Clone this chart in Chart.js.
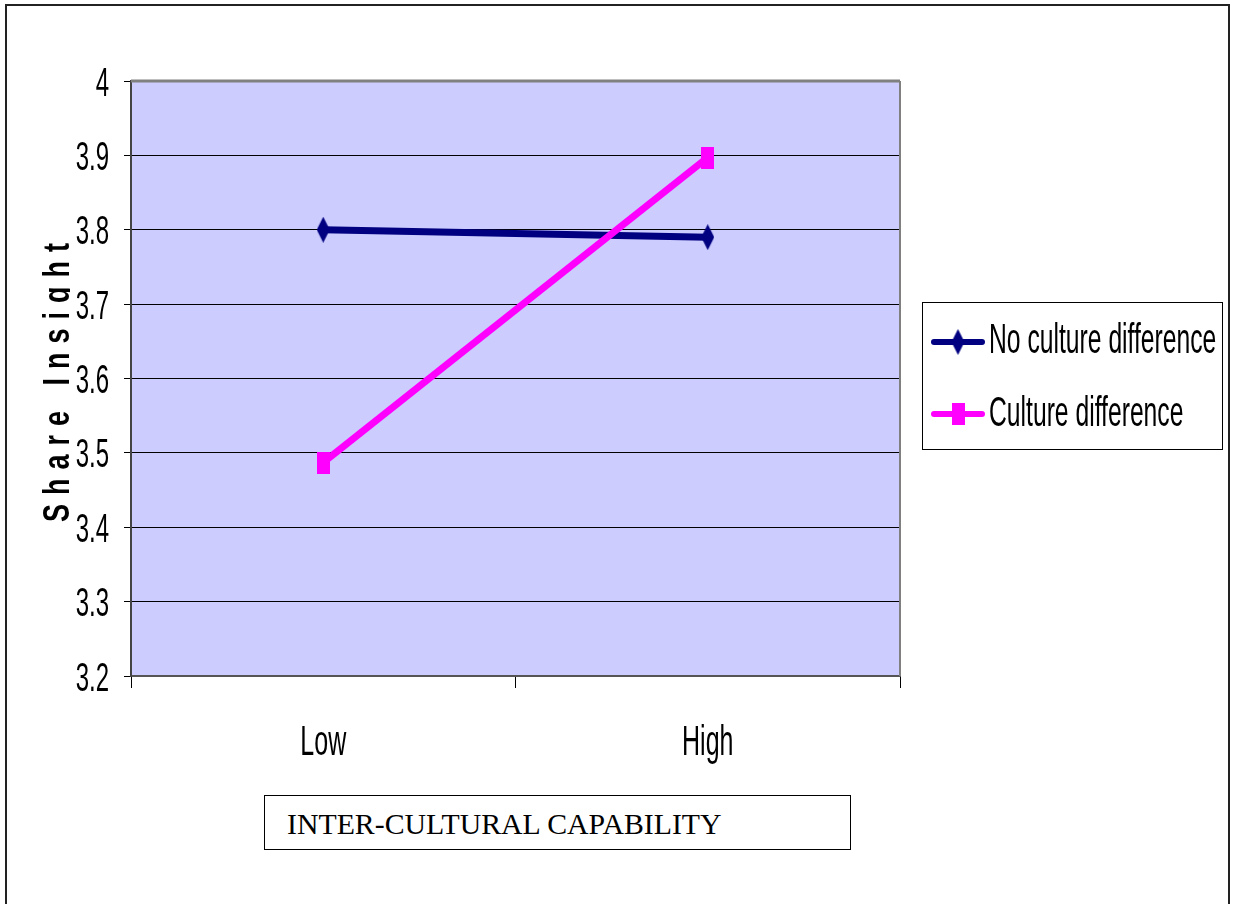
<!DOCTYPE html>
<html>
<head>
<meta charset="utf-8">
<title>Share Insight</title>
<script src="https://cdn.jsdelivr.net/npm/chart.js@4"></script>
<style>
    body { margin: 0; background: #fff; }
    #wrap { position: relative; width: 1233px; height: 904px; overflow: hidden; }
    #xtitle {
        position: absolute; left: 264px; top: 795px;
        width: 563px; height: 53px; padding-left: 22px;
        border: 1px solid #000; background: #fff;
        font-family: "Liberation Serif", "Times New Roman", serif;
        font-size: 29.8px; line-height: 55px; color: #000;
    }
</style>
</head>
<body>
<div id="wrap">
    <canvas id="myChart" width="1233" height="904"></canvas>
    <div id="xtitle">INTER-CULTURAL CAPABILITY</div>
</div>
<script>
// datos
const categories = ['Low', 'High'];
const seriesNames = ['No culture difference', 'Culture difference'];
const noCultureDiff = [3.80, 3.79];
const cultureDiff = [3.487, 3.897];
const yTickValues = [3.2, 3.3, 3.4, 3.5, 3.6, 3.7, 3.8, 3.9, 4.0];
const yTickLabels = ['3.2', '3.3', '3.4', '3.5', '3.6', '3.7', '3.8', '3.9', '4'];
const yTitle = 'Share Insight';

const NAVY = '#000080';
const MAGENTA = '#FF00FF';
const FONT = '"Liberation Sans", Arial, sans-serif';
const SY = 1.7;   // texto estirado en vertical como en Excel

// marcadores estirados (rombo y cuadrado)
function marker(shape, color, w, h) {
    const c = document.createElement('canvas');
    c.width = w; c.height = h;
    const g = c.getContext('2d');
    g.fillStyle = color;
    if (shape === 'diamond') {
        g.beginPath();
        g.moveTo(w / 2, 0); g.lineTo(w, h / 2); g.lineTo(w / 2, h); g.lineTo(0, h / 2);
        g.closePath(); g.fill();
    } else {
        g.fillRect(0, 0, w, h);
    }
    return c;
}
const diamondImg = marker('diamond', NAVY, 13, 26);
const squareImg = marker('square', MAGENTA, 13, 22);

function stretchText(ctx, text, x, yCenter, align, size, sy) {
    ctx.save();
    ctx.font = size + 'px ' + FONT;
    ctx.textAlign = align;
    ctx.textBaseline = 'alphabetic';
    ctx.translate(x, yCenter + 0.358 * size * sy);
    ctx.scale(1, sy);
    ctx.fillText(text, 0, 0);
    ctx.restore();
}

const excelLook = {
    id: 'excelLook',
    beforeDraw(chart) {
        const { ctx, chartArea: a } = chart;
        ctx.save();
        ctx.fillStyle = '#fff';
        ctx.fillRect(0, 0, chart.width, chart.height);
        ctx.fillStyle = '#CCCCFF';
        ctx.fillRect(a.left, a.top, a.right - a.left, a.bottom - a.top);
        ctx.restore();
    },
    afterDraw(chart) {
        const { ctx, chartArea: a } = chart;
        const ys = chart.scales.y, xs = chart.scales.x;
        ctx.save();
        // bordes del area de trazado
        ctx.strokeStyle = '#808080';
        ctx.lineWidth = 3;
        ctx.beginPath(); ctx.moveTo(a.left, a.top); ctx.lineTo(a.right, a.top); ctx.stroke();
        ctx.lineWidth = 2;
        ctx.beginPath(); ctx.moveTo(a.right, a.top); ctx.lineTo(a.right, a.bottom); ctx.stroke();

        // etiquetas del eje y
        ctx.fillStyle = '#000';
        ys.ticks.forEach((t, i) => {
            stretchText(ctx, yTickLabels[i], 109, ys.getPixelForValue(t.value), 'right', 24, SY);
        });
        // etiquetas de categoria
        categories.forEach((c, i) => {
            stretchText(ctx, c, xs.getPixelForTick(i), 740, 'center', 25, 1.68);
        });

        // titulo del eje y (recortado como en el original)
        ctx.save();
        ctx.beginPath(); ctx.rect(0, 0, 70, chart.height); ctx.clip();
        ctx.translate(69, 522);
        ctx.rotate(-Math.PI / 2);
        ctx.scale(1, 1.4);
        ctx.font = 'bold 27px ' + FONT;
        ctx.letterSpacing = '9px';
        ctx.textAlign = 'left';
        ctx.textBaseline = 'alphabetic';
        ctx.fillText(yTitle, 0, 0);
        ctx.restore();

        // leyenda
        ctx.strokeStyle = '#000';
        ctx.lineWidth = 1;
        ctx.strokeRect(922.5, 302.5, 300, 147);
        const rows = [
            { name: seriesNames[0], color: NAVY, img: diamondImg, y: 342, ty: 338 },
            { name: seriesNames[1], color: MAGENTA, img: squareImg, y: 414, ty: 411 }
        ];
        rows.forEach(r => {
            ctx.strokeStyle = r.color;
            ctx.lineWidth = 6;
            ctx.lineCap = 'round';
            ctx.beginPath(); ctx.moveTo(934, r.y); ctx.lineTo(982, r.y); ctx.stroke();
            ctx.drawImage(r.img, 958 - r.img.width / 2, r.y - r.img.height / 2);
            ctx.fillStyle = '#000';
            stretchText(ctx, r.name, 989, r.ty, 'left', 24.7, SY);
        });

        // marco exterior
        ctx.strokeStyle = '#222';
        ctx.lineWidth = 2;
        ctx.lineCap = 'butt';
        ctx.strokeRect(6, 5, 1223, 1000);
        ctx.restore();
    }
};

const ctx = document.getElementById('myChart').getContext('2d');
new Chart(ctx, {
    type: 'line',
    data: {
        labels: categories,
        datasets: [{
            label: seriesNames[0],
            data: noCultureDiff,
            borderColor: NAVY,
            backgroundColor: NAVY,
            borderWidth: 7,
            pointStyle: diamondImg,
            order: 1
        }, {
            label: seriesNames[1],
            data: cultureDiff,
            borderColor: MAGENTA,
            backgroundColor: MAGENTA,
            borderWidth: 7,
            pointStyle: squareImg,
            order: 0
        }]
    },
    options: {
        responsive: false,
        animation: false,
        layout: { padding: { top: 81, right: 333, left: 0, bottom: 0 } },
        plugins: {
            legend: { display: false },
            tooltip: { enabled: false },
            title: { display: false }
        },
        scales: {
            x: {
                type: 'category',
                offset: true,
                grid: { offset: true, drawOnChartArea: false, color: '#000', tickLength: 12 },
                border: { color: '#555', width: 2 },
                ticks: { display: false },
                afterFit: s => { s.height = 228; }
            },
            y: {
                min: 3.2,
                max: 4.0,
                afterBuildTicks: s => { s.ticks = yTickValues.map(v => ({ value: v })); },
                grid: { color: '#000', lineWidth: 1, tickLength: 7 },
                border: { color: '#444', width: 2 },
                ticks: { display: false },
                afterFit: s => { s.width = 131; }
            }
        }
    },
    plugins: [excelLook]
});
</script>
</body>
</html>
